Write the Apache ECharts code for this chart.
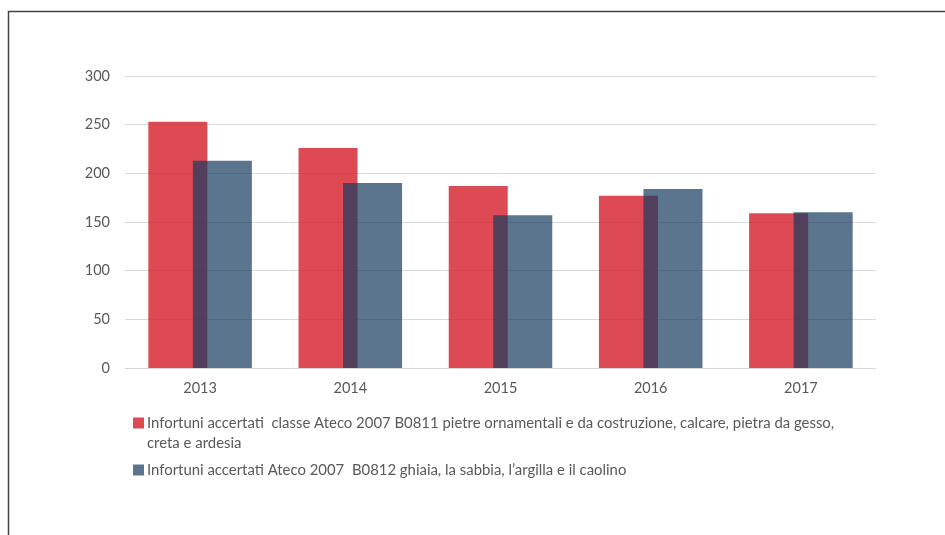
<!DOCTYPE html>
<html><head><meta charset="utf-8">
<script src="https://cdn.jsdelivr.net/npm/echarts@6/dist/echarts.min.js"></script>
<style>html,body{margin:0;padding:0;background:#fff}#c{width:945px;height:535px}</style>
</head><body><div id="c"></div>
<script>
const years = ['2013','2014','2015','2016','2017'];
const seriesB0811 = [253, 226, 187, 177, 159];
const seriesB0812 = [213, 190, 157, 184, 160];
const yTicks = [0, 50, 100, 150, 200, 250, 300];
const nameB0811 = 'Infortuni accertati  classe Ateco 2007 B0811 pietre ornamentali e da costruzione, calcare, pietra da gesso,\ncreta e ardesia';
const nameB0812 = 'Infortuni accertati Ateco 2007  B0812 ghiaia, la sabbia, l\u2019argilla e il caolino';

const FONT = 'Lato';
const chart = echarts.init(document.getElementById('c'));
chart.setOption({
  animation: false,
  backgroundColor: '#fff',
  graphic: [{
    type: 'rect', silent: true,
    shape: {x: 8.5, y: 11.5, width: 1000, height: 1000},
    style: {fill: 'none', stroke: '#444', lineWidth: 1.5}
  }],
  grid: {left: 125, right: 69, top: 76, bottom: 167, containLabel: false},
  legend: {
    orient: 'vertical', left: 128, top: 388, itemWidth: 11, itemHeight: 11, itemGap: 7,
    icon: 'rect',
    textStyle: {fontFamily: FONT, fontSize: 14.9, color: '#595959', lineHeight: 20, padding: [0,0,0,-2]},
    formatter: function (name) { return name.indexOf('\n') >= 0 ? '\n' + name : name; },
    data: [nameB0811, nameB0812]
  },
  xAxis: {
    type: 'category', data: years,
    axisLine: {lineStyle: {color: '#d9d9d9', width: 1}},
    axisTick: {show: false},
    axisLabel: {fontFamily: FONT, fontSize: 14.5, color: '#595959', margin: 13}
  },
  yAxis: {
    type: 'value', min: yTicks[0], max: yTicks[yTicks.length-1], interval: 50,
    axisLine: {show: false}, axisTick: {show: false},
    splitLine: {lineStyle: {color: '#d9d9d9', width: 1}},
    axisLabel: {fontFamily: FONT, fontSize: 14.5, color: '#595959', margin: 15}
  },
  series: [
    {name: nameB0811, type: 'bar', data: seriesB0811, barWidth: 59, barGap: '-24.5%',
     itemStyle: {color: 'rgba(214,29,40,0.8)'}, z: 2},
    {name: nameB0812, type: 'bar', data: seriesB0812, barWidth: 59,
     itemStyle: {color: 'rgba(22,58,96,0.7)'}, z: 3}
  ]
});
</script></body></html>
